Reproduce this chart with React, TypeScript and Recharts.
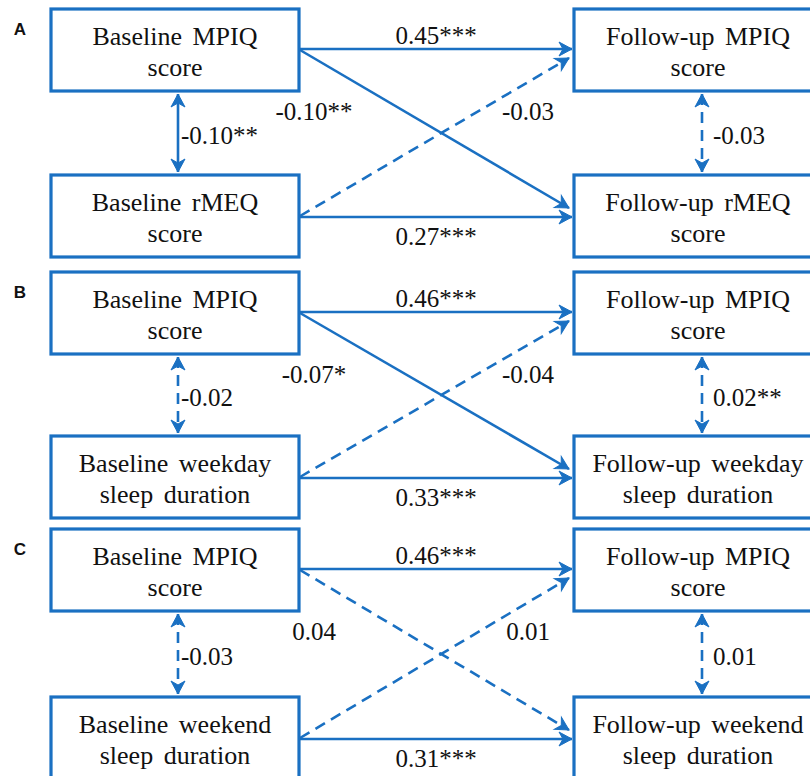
import React from 'react';
import { ScatterChart, Scatter, XAxis, YAxis } from 'recharts';

const W = 810;
const H = 776;
const BLUE = '#1a70c2';
const SERIF = '"Liberation Serif", "Times New Roman", serif';
const SANS = '"Liberation Sans", Arial, sans-serif';

// ---- content ----
const panelLetters = ['A', 'B', 'C'];
const baselineMPIQ = ['Baseline MPIQ', 'score'];
const followMPIQ = ['Follow-up MPIQ', 'score'];
const baselineOther = [
  ['Baseline rMEQ', 'score'],
  ['Baseline weekday', 'sleep duration'],
  ['Baseline weekend', 'sleep duration'],
];
const followOther = [
  ['Follow-up rMEQ', 'score'],
  ['Follow-up weekday', 'sleep duration'],
  ['Follow-up weekend', 'sleep duration'],
];

// ---- path coefficients per panel ----
const mpiqStability = ['0.45***', '0.46***', '0.46***'];
const otherStability = ['0.27***', '0.33***', '0.31***'];
const mpiqToOther = ['-0.10**', '-0.07*', '0.04'];
const otherToMpiq = ['-0.03', '-0.04', '0.01'];
const baselineCorr = ['-0.10**', '-0.02', '-0.03'];
const followCorr = ['-0.03', '0.02**', '0.01'];

// ---- dashed flags per panel ----
const mpiqStabilityDashed = [false, false, false];
const otherStabilityDashed = [false, false, false];
const mpiqToOtherDashed = [false, false, true];
const otherToMpiqDashed = [true, true, true];
const baselineCorrDashed = [false, true, true];
const followCorrDashed = [true, true, true];

// ---- layout (diagram coordinates) ----
const columnX = [175, 698];
const topRowY = [50, 313, 570];
const bottomRowY = [216, 477, 738];

const BOX_W = 248;
const BOX_H = 82;
const HW = BOX_W / 2;
const HH = BOX_H / 2;

type Node = { x: number; y: number; lines: string[] };
type Pt = { x: number; y: number; ox: number; oy: number; head: boolean };
type Edge = { pts: Pt[]; dashed: boolean };
type Lab = { x: number; y: number; text: string; anchor: string; kind: string };

const nodes: Node[] = [];
const edges: Edge[] = [];
const labels: Lab[] = [];

const mkEdge = (x1: number, y1: number, x2: number, y2: number, both: boolean, dashed: boolean): Edge => ({
  pts: [
    { x: x1, y: y1, ox: x2, oy: y2, head: both },
    { x: x2, y: y2, ox: x1, oy: y1, head: true },
  ],
  dashed,
});

for (let p = 0; p < 3; p++) {
  const top = topRowY[p];
  const bot = bottomRowY[p];
  const [lx, rx] = columnX;
  nodes.push({ x: lx, y: top, lines: baselineMPIQ });
  nodes.push({ x: lx, y: bot, lines: baselineOther[p] });
  nodes.push({ x: rx, y: top, lines: followMPIQ });
  nodes.push({ x: rx, y: bot, lines: followOther[p] });

  const sx = lx + HW + 1;
  const ex = rx - HW - 2;
  edges.push(mkEdge(sx, top - 1, ex, top - 1, false, mpiqStabilityDashed[p]));
  edges.push(mkEdge(sx, bot + 1, ex, bot + 1, false, otherStabilityDashed[p]));
  edges.push(mkEdge(sx, top, ex - 3, bot - 8, false, mpiqToOtherDashed[p]));
  edges.push(mkEdge(sx, bot, ex - 3, top + 8, false, otherToMpiqDashed[p]));
  edges.push(mkEdge(lx + 3, top + HH + 3, lx + 3, bot - HH - 3, true, baselineCorrDashed[p]));
  edges.push(mkEdge(rx + 4, top + HH + 3, rx + 4, bot - HH - 3, true, followCorrDashed[p]));

  const mid = (top + bot) / 2;
  labels.push({ x: 436, y: top - 15, text: mpiqStability[p], anchor: 'middle', kind: 'coef' });
  labels.push({ x: 436, y: bot + 20, text: otherStability[p], anchor: 'middle', kind: 'coef' });
  labels.push({ x: 314, y: top + 61, text: mpiqToOther[p], anchor: 'middle', kind: 'coef' });
  labels.push({ x: 528, y: top + 61, text: otherToMpiq[p], anchor: 'middle', kind: 'coef' });
  labels.push({ x: lx + 6, y: mid + 2, text: baselineCorr[p], anchor: 'start', kind: 'coef' });
  labels.push({ x: rx + 15, y: mid + 2, text: followCorr[p], anchor: 'start', kind: 'coef' });
  labels.push({ x: 20, y: top - 21, text: panelLetters[p], anchor: 'middle', kind: 'panel' });
}

const ArrowHead = (props: any) => {
  const { cx, cy, payload } = props;
  if (!payload || !payload.head) return <g />;
  const ang = (Math.atan2(payload.y - payload.oy, payload.x - payload.ox) * 180) / Math.PI;
  return (
    <path
      d="M0,0 L-13,-7 L-9,0 L-13,7 Z"
      fill={BLUE}
      stroke={BLUE}
      strokeWidth={1}
      strokeLinejoin="miter"
      transform={`translate(${cx},${cy}) rotate(${ang})`}
    />
  );
};

const BoxShape = (props: any) => {
  const { cx, cy, payload } = props;
  const ts = { fontFamily: SERIF, fontSize: 26, wordSpacing: 4 } as React.CSSProperties;
  return (
    <g>
      <rect x={cx - HW} y={cy - HH} width={BOX_W} height={BOX_H} fill="#fff" stroke={BLUE} strokeWidth={3.2} />
      <text x={cx} y={cy - 14} textAnchor="middle" dominantBaseline="central" style={ts} fill="#111">
        {payload.lines[0]}
      </text>
      <text x={cx} y={cy + 17} textAnchor="middle" dominantBaseline="central" style={ts} fill="#111">
        {payload.lines[1]}
      </text>
    </g>
  );
};

const LabelShape = (props: any) => {
  const { cx, cy, payload } = props;
  if (payload.kind === 'panel') {
    return (
      <text x={cx} y={cy} textAnchor="middle" dominantBaseline="central" style={{ fontFamily: SANS, fontWeight: 'bold', fontSize: 17 }} fill="#111">
        {payload.text}
      </text>
    );
  }
  return (
    <text x={cx} y={cy} textAnchor={payload.anchor} dominantBaseline="central" style={{ fontFamily: SERIF, fontSize: 25 }} fill="#111">
      {payload.text}
    </text>
  );
};

export default function App() {
  return (
    <div style={{ position: 'absolute', left: 0, top: 0, width: W, height: H, background: '#fff', overflow: 'hidden' }}>
      <ScatterChart width={W} height={H} margin={{ top: 0, right: 0, bottom: 0, left: 0 }}>
        <XAxis type="number" dataKey="x" domain={[0, W]} hide allowDataOverflow />
        <YAxis type="number" dataKey="y" domain={[0, H]} reversed hide allowDataOverflow />
        {edges.map((e, i) => (
          <Scatter
            key={`edge-${i}`}
            data={e.pts}
            fill={BLUE}
            line={{ stroke: BLUE, strokeWidth: 2.6, strokeDasharray: e.dashed ? '11 7' : undefined }}
            lineType="joint"
            shape={ArrowHead}
            isAnimationActive={false}
          />
        ))}
        <Scatter data={nodes} fill={BLUE} shape={BoxShape} isAnimationActive={false} />
        <Scatter data={labels} fill="#111" shape={LabelShape} isAnimationActive={false} />
      </ScatterChart>
    </div>
  );
}
